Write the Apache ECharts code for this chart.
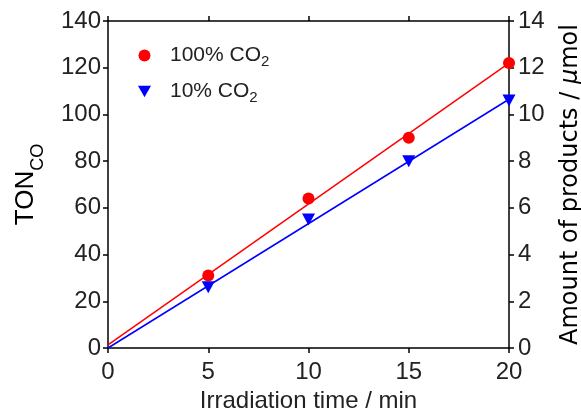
<!DOCTYPE html>
<html><head><meta charset="utf-8">
<script src="https://cdn.jsdelivr.net/npm/echarts@6/dist/echarts.min.js"></script>
<style>html,body{margin:0;padding:0;background:#fff}#c{width:581px;height:417px}</style>
</head><body><div id="c"></div>
<script>
const times = [5, 10, 15, 20];
const ton100 = [31, 64, 90, 122];
const ton10 = [26, 55, 80, 106];
const fit100 = [[0, 1.3], [20, 122]];
const fit10 = [[0, 0], [20, 106.5]];
const xTicks = [0, 5, 10, 15, 20];

const red = '#ff0000', blue = '#0000ff';
const font = 'Liberation Sans, Arial, sans-serif';
const wideFont = 'DejaVu Sans, Liberation Sans, sans-serif';
const tri = 'path://M0,0 L10,0 L5,9 Z';

const chart = echarts.init(document.getElementById('c'));
const axisCommon = {
  axisLine: {show: true, onZero: false, lineStyle: {color: '#000', width: 1.5}},
  axisTick: {show: true, inside: false, length: 5, lineStyle: {color: '#000', width: 1.5}},
  splitLine: {show: false},
  axisLabel: {color: '#222', fontSize: 24, fontFamily: font, margin: 7}
};
chart.setOption({
  animation: false,
  grid: {left: 108, right: 72, top: 21, bottom: 69, outerBoundsMode: 'none', containLabel: false},
  legend: {
    left: 133, top: 40, orient: 'vertical', itemGap: 12, itemWidth: 13, itemHeight: 12,
    data: [{name: '100% CO2', icon: 'circle'}, {name: '10% CO2', icon: tri}],
    formatter: n => n === '100% CO2' ? '{t|100% CO}{s|2}' : '{t|10% CO}{s|2}',
    textStyle: {
      fontFamily: font, color: '#222',
      rich: {t: {fontSize: 21, fontFamily: font, color: '#222', padding: [0, 0, 0, 14]},
             s: {fontSize: 15, fontFamily: font, color: '#222', verticalAlign: 'bottom', padding: [12, 0, 0, 0]}}
    }
  },
  xAxis: [
    Object.assign({}, axisCommon, {
      type: 'value', min: 0, max: 20, interval: 5, position: 'bottom',
      name: 'Irradiation time / min', nameLocation: 'middle', nameGap: 40,
      nameTextStyle: {fontSize: 24, fontFamily: font, color: '#222'},
      axisLabel: Object.assign({}, axisCommon.axisLabel, {margin: 12,
        formatter: v => xTicks.includes(v) ? String(v) : ''})
    }),
    Object.assign({}, axisCommon, {
      type: 'value', min: 0, max: 20, interval: 5, position: 'top',
      axisLabel: {show: false}
    })
  ],
  yAxis: [
    Object.assign({}, axisCommon, {
      type: 'value', min: 0, max: 140, interval: 20, position: 'left',
      name: '{a|TON}{s|CO}', nameLocation: 'middle', nameGap: 61,
      nameTextStyle: {fontFamily: font, color: '#000',
        rich: {a: {fontSize: 26, fontFamily: font, color: '#000'},
               s: {fontSize: 18, fontFamily: font, color: '#000', verticalAlign: 'bottom', padding: [24, 0, 0, 0]}}}
    }),
    Object.assign({}, axisCommon, {
      type: 'value', min: 0, max: 14, interval: 2, position: 'right',
      axisLabel: Object.assign({}, axisCommon.axisLabel, {margin: 9}),
      name: '{a|Amount of products / }{m|μ}{a|mol}', nameLocation: 'middle', nameGap: 50,
      nameRotate: 90,
      nameTextStyle: {fontFamily: wideFont, color: '#000',
        rich: {a: {fontSize: 24, fontFamily: wideFont, color: '#000'},
               m: {fontSize: 24, fontFamily: wideFont, fontStyle: 'italic', color: '#000'}}}
    })
  ],
  series: [
    {name: 'fit100', type: 'line', data: fit100, symbol: 'none', lineStyle: {color: red, width: 1.5}, z: 2},
    {name: 'fit10', type: 'line', data: fit10, symbol: 'none', lineStyle: {color: blue, width: 1.5}, z: 2},
    {name: '100% CO2', type: 'scatter', data: times.map((t, i) => [t, ton100[i]]), symbol: 'circle', symbolSize: 12, itemStyle: {color: red, opacity: 1}, z: 3},
    {name: '10% CO2', type: 'scatter', data: times.map((t, i) => [t, ton10[i]]), symbol: tri, symbolSize: [13, 12], itemStyle: {color: blue, opacity: 1}, z: 3}
  ]
});
</script></body></html>
